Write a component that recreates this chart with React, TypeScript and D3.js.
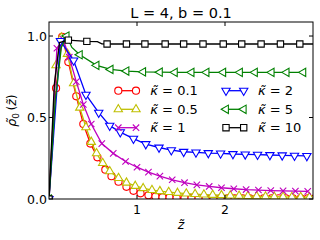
import React, { useEffect, useRef } from 'react';
import * as d3 from 'd3';

// kappa = 0.1
const redZ = [0, 0.08, 0.15, 0.22, 0.31, 0.39, 0.47, 0.55, 0.64, 0.71, 0.79, 0.88, 0.96, 1.04, 1.13, 1.21, 1.29, 1.37, 1.45, 1.54, 1.62, 1.7, 1.78, 1.87, 1.95, 2.03, 2.11, 2.2, 2.28, 2.36, 2.44, 2.53, 2.61, 2.69, 2.77, 2.86, 2.94, 3.02];
const redV = [0, 0.68, 0.995, 0.84, 0.63, 0.46, 0.34, 0.256, 0.18, 0.14, 0.106, 0.075, 0.05, 0.035, 0.023, 0.015, 0.011, 0.009, 0.007, 0.006, 0.005, 0.005, 0.004, 0.004, 0.004, 0.004, 0.004, 0.004, 0.004, 0.004, 0.004, 0.004, 0.004, 0.004, 0.004, 0.004, 0.004, 0.004];
// kappa = 0.5
const yelZ = [0, 0.08, 0.14, 0.21, 0.28, 0.35, 0.42, 0.48, 0.54, 0.61, 0.69, 0.79, 0.88, 0.98, 1.07, 1.17, 1.26, 1.36, 1.46, 1.56, 1.66, 1.76, 1.86, 1.96, 2.06, 2.16, 2.26, 2.36, 2.46, 2.56, 2.66, 2.76, 2.86, 2.96];
const yelV = [0, 0.82, 0.99, 0.89, 0.71, 0.56, 0.44, 0.35, 0.28, 0.22, 0.17, 0.128, 0.1, 0.08, 0.066, 0.055, 0.048, 0.042, 0.037, 0.033, 0.03, 0.027, 0.025, 0.023, 0.021, 0.019, 0.018, 0.016, 0.015, 0.014, 0.013, 0.012, 0.012, 0.011];
// kappa = 1
const magZ = [0, 0.09, 0.16, 0.23, 0.31, 0.39, 0.48, 0.6, 0.73, 0.87, 1.0, 1.13, 1.26, 1.4, 1.54, 1.68, 1.82, 1.96, 2.1, 2.24, 2.38, 2.52, 2.66, 2.8, 2.94];
const magV = [0, 0.925, 0.98, 0.87, 0.72, 0.58, 0.46, 0.34, 0.28, 0.23, 0.195, 0.165, 0.14, 0.118, 0.1, 0.087, 0.077, 0.069, 0.063, 0.058, 0.055, 0.052, 0.05, 0.048, 0.047];
// kappa = 2
const bluZ = [0, 0.13, 0.28, 0.42, 0.565, 0.69, 0.81, 0.96, 1.1, 1.25, 1.39, 1.53, 1.67, 1.81, 1.95, 2.09, 2.23, 2.37, 2.51, 2.65, 2.79, 2.93];
const bluV = [0, 0.97, 0.85, 0.64, 0.53, 0.45, 0.41, 0.37, 0.337, 0.316, 0.3, 0.29, 0.286, 0.282, 0.28, 0.276, 0.274, 0.272, 0.27, 0.268, 0.266, 0.264];
// kappa = 5
const grnZ = [0, 0.07, 0.14, 0.2, 0.26, 0.35, 0.54, 0.7, 0.88, 1.07, 1.26, 1.43, 1.62, 1.79, 1.98, 2.17, 2.34, 2.53, 2.7, 2.89];
const grnV = [0, 0.6, 0.93, 1.0, 0.93, 0.885, 0.82, 0.795, 0.785, 0.78, 0.778, 0.777, 0.777, 0.777, 0.777, 0.777, 0.777, 0.777, 0.777, 0.777];
const grnSkip = [1, 2, 4];
// kappa = 10
const blkZ = [0, 0.06, 0.12, 0.22, 0.43, 0.55, 0.6, 0.66, 0.88, 1.09, 1.32, 1.53, 1.75, 1.98, 2.19, 2.41, 2.63, 2.85, 3.07];
const blkV = [0, 0.7, 0.96, 0.975, 0.967, 0.965, 0.952, 0.951, 0.951, 0.951, 0.951, 0.951, 0.951, 0.951, 0.951, 0.951, 0.951, 0.951, 0.951];
const blkSkip = [1, 2, 5, 6];

const kappaLabels = ['0.1', '0.5', '1', '2', '5', '10'];
const xTicks = [1, 2];
const yTicks = [0, 0.5, 1.0];

type Marker = 'circle' | 'triUp' | 'x' | 'triDown' | 'triLeft' | 'square';
interface Series { z: number[]; v: number[]; skip: number[]; color: string; marker: Marker; label: string; }

const series: Series[] = [
  { z: redZ, v: redV, skip: [], color: '#ff0000', marker: 'circle', label: kappaLabels[0] },
  { z: yelZ, v: yelV, skip: [], color: '#bfbf00', marker: 'triUp', label: kappaLabels[1] },
  { z: magZ, v: magV, skip: [], color: '#bf00bf', marker: 'x', label: kappaLabels[2] },
  { z: bluZ, v: bluV, skip: [], color: '#0000ff', marker: 'triDown', label: kappaLabels[3] },
  { z: grnZ, v: grnV, skip: grnSkip, color: '#008000', marker: 'triLeft', label: kappaLabels[4] },
  { z: blkZ, v: blkV, skip: blkSkip, color: '#000000', marker: 'square', label: kappaLabels[5] },
];

const FONT = '"DejaVu Sans", sans-serif';

function drawMarker(g: d3.Selection<SVGGElement, unknown, null, undefined>, type: Marker, cx: number, cy: number, color: string) {
  if (type === 'x') {
    const s = 3.2;
    g.append('path')
      .attr('d', `M${cx - s},${cy - s}L${cx + s},${cy + s}M${cx - s},${cy + s}L${cx + s},${cy - s}`)
      .attr('stroke', color).attr('stroke-width', 1.1).attr('fill', 'none');
    return;
  }
  let sym: d3.SymbolType = d3.symbolCircle;
  let size = 40;
  let rot = 0;
  if (type === 'square') { sym = d3.symbolSquare; size = 40; }
  if (type === 'triUp') { sym = d3.symbolTriangle; size = 30; }
  if (type === 'triDown') { sym = d3.symbolTriangle; size = 30; rot = 180; }
  if (type === 'triLeft') { sym = d3.symbolTriangle; size = 30; rot = -90; }
  g.append('path')
    .attr('d', d3.symbol().type(sym).size(size)())
    .attr('transform', `translate(${cx},${cy}) rotate(${rot})`)
    .attr('fill', '#ffffff')
    .attr('stroke', color)
    .attr('stroke-width', 1.1);
}

const Chart: React.FC = () => {
  const svgRef = useRef<SVGSVGElement>(null);

  useEffect(() => {
    if (!svgRef.current) return;
    const svg = d3.select(svgRef.current);
    svg.selectAll('*').remove();

    const x = d3.scaleLinear().domain([0, 3]).range([49, 313]);
    const y = d3.scaleLinear().domain([0, 1.086]).range([199, 22]);
    const [x0, x1] = x.range();
    const [y0, y1] = y.range();

    svg.append('defs').append('clipPath').attr('id', 'plot-clip')
      .append('rect').attr('x', x0).attr('y', y1).attr('width', x1 - x0).attr('height', y0 - y1);

    const plot = svg.append('g').attr('clip-path', 'url(#plot-clip)');

    series.forEach(s => {
      const pts = s.z.map((z, i) => [z, s.v[i]] as [number, number]);
      const line = d3.line<[number, number]>().x(d => x(d[0])).y(d => y(d[1]));
      plot.append('path')
        .datum(pts)
        .attr('d', line)
        .attr('fill', 'none')
        .attr('stroke', s.color)
        .attr('stroke-width', 1.3);
      const mg = plot.append('g');
      pts.forEach((p, i) => {
        if (s.skip.includes(i)) return;
        drawMarker(mg, s.marker, x(p[0]), y(p[1]), s.color);
      });
    });

    // frame
    svg.append('rect')
      .attr('x', x0).attr('y', y1).attr('width', x1 - x0).attr('height', y0 - y1)
      .attr('fill', 'none').attr('stroke', '#000').attr('stroke-width', 1);

    // ticks (inward, all four sides)
    const tl = 4;
    xTicks.forEach(t => {
      svg.append('line').attr('x1', x(t)).attr('x2', x(t)).attr('y1', y0).attr('y2', y0 - tl).attr('stroke', '#000');
      svg.append('line').attr('x1', x(t)).attr('x2', x(t)).attr('y1', y1).attr('y2', y1 + tl).attr('stroke', '#000');
      svg.append('text').attr('x', x(t)).attr('y', y0 + 15).attr('text-anchor', 'middle')
        .attr('font-family', FONT).attr('font-size', 12.5).attr('fill', '#000').text(String(t));
    });
    yTicks.forEach(t => {
      svg.append('line').attr('x1', x0).attr('x2', x0 + tl).attr('y1', y(t)).attr('y2', y(t)).attr('stroke', '#000');
      svg.append('line').attr('x1', x1).attr('x2', x1 - tl).attr('y1', y(t)).attr('y2', y(t)).attr('stroke', '#000');
      svg.append('text').attr('x', x0 - 2).attr('y', y(t)).attr('dy', '0.36em').attr('text-anchor', 'end')
        .attr('font-family', FONT).attr('font-size', 12.5).attr('fill', '#000').text(t.toFixed(1));
    });

    // title
    svg.append('text').attr('x', (x0 + x1) / 2).attr('y', 18).attr('text-anchor', 'middle')
      .attr('font-family', FONT).attr('font-size', 14.5).attr('fill', '#000').text('L = 4, b = 0.1');

    // x label
    svg.append('text').attr('x', (x0 + x1) / 2).attr('y', 229).attr('text-anchor', 'middle')
      .attr('font-family', FONT).attr('font-size', 12.5).attr('font-style', 'italic').attr('fill', '#000').text('z\u0303');

    // y label
    const yl = svg.append('text')
      .attr('transform', `translate(16,${(y0 + y1) / 2}) rotate(-90)`)
      .attr('text-anchor', 'middle')
      .attr('font-family', FONT).attr('font-size', 12.5).attr('fill', '#000');
    yl.append('tspan').attr('font-style', 'italic').text('\u03c1\u0303');
    yl.append('tspan').attr('font-size', 9).attr('dy', 3).text('0');
    yl.append('tspan').attr('dy', -3).text('\u2009(');
    yl.append('tspan').attr('font-style', 'italic').text('z\u0303');
    yl.append('tspan').text(')');

    // legend
    const rowY = [90.7, 109.3, 127.7];
    const colX = [118.3, 226];
    series.forEach((s, i) => {
      const col = Math.floor(i / 3);
      const row = i % 3;
      const lx = colX[col];
      const ly = rowY[row];
      const lg = svg.append('g');
      lg.append('line').attr('x1', lx).attr('x2', lx + 17.7).attr('y1', ly).attr('y2', ly)
        .attr('stroke', s.color).attr('stroke-width', 1.3);
      drawMarker(lg, s.marker, lx, ly, s.color);
      drawMarker(lg, s.marker, lx + 17.7, ly, s.color);
      const t = lg.append('text').attr('x', lx + 32).attr('y', ly).attr('dy', '0.36em')
        .attr('font-family', FONT).attr('font-size', 13).attr('fill', '#000');
      t.append('tspan').attr('font-style', 'italic').text('\u03ba\u0303');
      t.append('tspan').text(` = ${s.label}`);
    });
  }, []);

  return <svg ref={svgRef} width={320} height={240} viewBox="0 0 320 240" style={{ display: 'block' }} />;
};

export default function App() {
  return (
    <div style={{ position: 'absolute', left: 0, top: 0, width: 320, height: 240, background: '#fff' }}>
      <Chart />
    </div>
  );
}
